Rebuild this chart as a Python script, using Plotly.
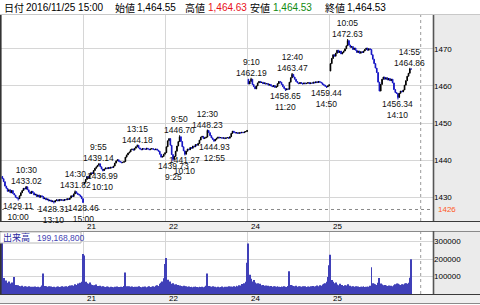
import plotly.graph_objects as go

# ---------------- data ----------------
DAYS = ["18", "21", "22", "24", "25"]
DAY_OPENS = [1435.6, 1433.6, 1442.0, 1461.8, 1464.0]

CLOSE_18 = [1435.0, 1434.2, 1433.0, 1432.4, 1431.6, 1432.0, 1431.2, 1431.8, 1431.0, 1430.6,
            1430.0, 1429.8, 1429.6, 1430.4, 1431.2, 1431.8, 1432.4, 1432.2, 1432.8, 1432.0,
            1431.4, 1431.0, 1431.6, 1431.2, 1430.6, 1430.8, 1430.2, 1430.6, 1430.0, 1430.4,
            1430.2,
            1429.6, 1429.8, 1429.3, 1429.5, 1429.0, 1429.2, 1428.8, 1429.0, 1428.7, 1429.1,
            1429.3, 1429.0, 1429.4, 1429.2, 1429.3, 1429.1, 1429.4, 1429.3, 1429.6, 1429.4,
            1429.8, 1430.4, 1430.2, 1430.9, 1431.5, 1431.1, 1430.8, 1430.6, 1430.2, 1429.6,
            1428.6]
CLOSE_21 = [1434.0, 1434.8, 1435.6, 1435.2, 1436.0, 1436.6, 1436.4, 1437.2, 1437.8, 1438.2,
            1438.6, 1439.0, 1438.2, 1437.6, 1437.2, 1437.6, 1437.9, 1437.7, 1438.0, 1437.8,
            1438.1, 1438.0, 1438.4, 1439.2, 1439.8, 1440.1, 1439.7, 1439.5, 1439.3, 1439.4,
            1439.6,
            1440.8, 1441.4, 1441.9, 1442.2, 1442.8, 1443.0, 1442.7, 1443.2, 1443.6, 1444.0,
            1443.3, 1443.0, 1442.8, 1443.1, 1443.0, 1442.9, 1443.2, 1443.0, 1442.8, 1443.0,
            1443.1, 1442.9, 1442.8, 1443.0, 1442.7, 1442.4, 1441.6, 1440.8, 1441.0, 1441.6,
            1442.0]
CLOSE_22 = [1443.6, 1445.2, 1445.8, 1444.0, 1441.5, 1440.2, 1441.0, 1442.4, 1443.8, 1445.0,
            1446.3, 1445.0, 1443.6, 1442.5, 1441.6, 1442.4, 1443.0, 1442.8, 1443.4, 1443.2,
            1443.8, 1443.6, 1444.2, 1444.0, 1444.5, 1445.4, 1446.2, 1446.4, 1445.8, 1446.0,
            1446.2,
            1448.0, 1447.4, 1446.6, 1446.0, 1445.6, 1445.2, 1445.6, 1445.9, 1446.2, 1446.0,
            1446.1, 1445.9, 1446.0, 1445.8, 1446.0, 1446.1, 1445.9, 1446.3, 1447.2, 1447.8,
            1447.5, 1447.3, 1447.4, 1447.2, 1447.4, 1447.3, 1447.5, 1447.4, 1447.6, 1447.7,
            1448.0]
CLOSE_24 = [1460.5, 1461.2, 1461.8, 1460.4, 1459.8, 1459.2, 1460.0, 1460.8, 1461.2, 1460.9,
            1461.0, 1460.6, 1460.8, 1460.5, 1460.6, 1460.2, 1460.4, 1460.0, 1459.8, 1460.1,
            1459.6, 1459.8, 1460.6, 1461.2, 1461.0, 1460.4, 1459.8, 1459.3, 1458.9, 1459.2,
            1459.1,
            1461.0, 1462.2, 1463.1, 1462.4, 1461.8, 1461.2, 1460.8, 1460.6, 1460.9, 1460.7,
            1460.5, 1460.8, 1460.6, 1460.7, 1460.9, 1460.6, 1460.8, 1460.7, 1461.0, 1460.8,
            1461.1, 1460.9, 1461.2, 1461.0, 1460.8, 1460.4, 1460.2, 1459.9, 1459.7, 1460.0,
            1460.3]
CLOSE_25 = [1466.0, 1467.4, 1468.4, 1468.0, 1468.8, 1469.6, 1469.0, 1469.4, 1468.6, 1469.0,
            1469.4, 1470.0, 1470.8, 1472.2, 1471.0, 1470.4, 1470.6, 1469.8, 1470.2, 1469.6,
            1469.0, 1469.4, 1468.8, 1469.2, 1469.0, 1469.4, 1469.8, 1470.2, 1469.6, 1470.0,
            1469.8,
            1468.4, 1467.2, 1466.0, 1464.8, 1463.6, 1461.0, 1458.6, 1460.4, 1461.8, 1462.4,
            1461.8, 1462.2, 1461.6, 1462.0, 1461.4, 1461.8, 1460.8, 1459.0, 1458.2, 1458.0,
            1456.9, 1458.0, 1458.6, 1458.4, 1458.9, 1460.2, 1461.4, 1462.6, 1463.4, 1464.55,
            1464.53]

LAST_DATE = "2016/11/25 15:00"
LAST_OPEN, LAST_HIGH, LAST_LOW, LAST_CLOSE = 1464.55, 1464.63, 1464.53, 1464.53

VOL_18 = [300000, 92000, 70000, 78000, 64000, 72000, 60000, 66000, 56000, 98000,
          52000, 48000, 50000, 46000, 44000, 47000, 42000, 45000, 43000, 41000,
          44000, 40000, 42000, 41000, 39000, 43000, 40000, 41000, 39000, 42000, 48000,
          118000, 46000, 44000, 42000, 45000, 41000, 43000, 40000, 42000, 39000,
          41000, 43000, 40000, 42000, 44000, 41000, 43000, 45000, 42000, 46000,
          48000, 44000, 50000, 47000, 56000, 52000, 60000, 55000, 64000, 70000, 229000]
VOL_21 = [221000, 70000, 62000, 58000, 66000, 55000, 52000, 50000, 48000, 54000,
          46000, 44000, 47000, 43000, 45000, 42000, 40000, 43000, 41000, 39000,
          42000, 40000, 38000, 41000, 39000, 43000, 40000, 38000, 41000, 40000, 46000,
          123000, 44000, 42000, 45000, 41000, 43000, 40000, 42000, 39000, 41000,
          44000, 40000, 38000, 42000, 40000, 43000, 39000, 41000, 44000, 40000,
          42000, 45000, 41000, 47000, 50000, 46000, 58000, 64000, 72000, 90000, 172000]
VOL_22 = [206000, 82000, 66000, 72000, 58000, 62000, 54000, 56000, 50000, 52000,
          48000, 46000, 44000, 47000, 43000, 45000, 41000, 43000, 40000, 42000,
          39000, 41000, 43000, 40000, 38000, 42000, 40000, 41000, 39000, 42000, 47000,
          118000, 46000, 43000, 41000, 44000, 40000, 42000, 39000, 41000, 38000,
          40000, 43000, 39000, 41000, 40000, 42000, 44000, 40000, 43000, 41000,
          45000, 42000, 47000, 44000, 50000, 48000, 57000, 52000, 62000, 70000, 179000]
VOL_24 = [289000, 110000, 88000, 72000, 80000, 66000, 60000, 62000, 55000, 58000,
          50000, 52000, 47000, 49000, 45000, 47000, 44000, 46000, 42000, 45000,
          43000, 41000, 44000, 42000, 40000, 43000, 41000, 44000, 42000, 40000, 46000,
          130000, 52000, 48000, 46000, 44000, 47000, 42000, 45000, 43000, 41000,
          44000, 42000, 45000, 40000, 43000, 41000, 44000, 42000, 46000, 43000,
          45000, 48000, 44000, 50000, 47000, 54000, 58000, 62000, 70000, 98000, 164000]
VOL_25 = [225000, 80000, 70000, 62000, 66000, 55000, 50000, 58000, 48000, 52000,
          46000, 50000, 48000, 56000, 45000, 47000, 43000, 45000, 42000, 44000,
          41000, 43000, 40000, 42000, 41000, 44000, 40000, 42000, 43000, 41000, 47000,
          153000, 62000, 58000, 56000, 52000, 64000, 92000, 60000, 55000, 50000,
          52000, 48000, 46000, 49000, 45000, 47000, 44000, 50000, 56000, 60000,
          58000, 54000, 52000, 56000, 55000, 60000, 62000, 58000, 64000, 93000, 199168.8]

# labelled highs / lows: (day, time, value, kind)
EXTREMES = [
    ("18", "10:00", 1429.11, "low"), ("18", "10:30", 1433.02, "high"),
    ("18", "13:10", 1428.31, "low"), ("18", "14:30", 1431.82, "high"),
    ("18", "15:00", 1428.46, "low"),
    ("21", "9:55", 1439.14, "high"), ("21", "10:10", 1436.99, "low"),
    ("21", "13:15", 1444.18, "high"),
    ("22", "9:25", 1439.73, "low"), ("22", "9:50", 1446.70, "high"),
    ("22", "10:10", 1441.27, "low"), ("22", "12:30", 1448.23, "high"),
    ("22", "12:55", 1444.93, "low"),
    ("24", "9:10", 1462.19, "high"), ("24", "11:20", 1458.65, "low"),
    ("24", "12:40", 1463.47, "high"), ("24", "14:50", 1459.44, "low"),
    ("25", "10:05", 1472.63, "high"), ("25", "14:10", 1456.34, "low"),
    ("25", "14:55", 1464.86, "high"),
]

PRICE_TICKS = [1430, 1440, 1450, 1460, 1470]
VOL_TICKS = [100000, 200000, 300000]
REF_LINE = 1426.7
REF_LABEL = "1426"

# ---------------- build ----------------
W, H = 480, 305
BPD = 62


def local_index(t):
    h, m = map(int, t.split(":"))
    mins = h * 60 + m
    return (mins - 540) // 5 if mins < 720 else 31 + (mins - 750) // 5


CLOSE_LISTS = [CLOSE_18, CLOSE_21, CLOSE_22, CLOSE_24, CLOSE_25]
VOL_LISTS = [VOL_18, VOL_21, VOL_22, VOL_24, VOL_25]

xs, o_, h_, l_, c_, vols = [], [], [], [], [], []
for k, (dopen, dcl, dv) in enumerate(zip(DAY_OPENS, CLOSE_LISTS, VOL_LISTS)):
    prev = dopen
    for j, c in enumerate(dcl):
        xs.append(k * BPD + j)
        o_.append(prev)
        c_.append(c)
        h_.append(max(prev, c))
        l_.append(min(prev, c))
        prev = c
    vols.extend(dv)

o_[-1], h_[-1], l_[-1], c_[-1] = LAST_OPEN, LAST_HIGH, LAST_LOW, LAST_CLOSE
for day, t, v, kind in EXTREMES:
    i = DAYS.index(day) * BPD + local_index(t)
    if kind == "high":
        h_[i] = max(h_[i], v)
    else:
        l_[i] = min(l_[i], v)


def px(x):
    return x / W


def py(y):
    return 1 - y / H


fig = go.Figure()
fig.add_trace(go.Candlestick(
    x=xs, open=o_, high=h_, low=l_, close=c_,
    increasing=dict(line=dict(color="#000000", width=1), fillcolor="#000000"),
    decreasing=dict(line=dict(color="#1414c4", width=1), fillcolor="#1414c4"),
    whiskerwidth=0, xaxis="x", yaxis="y", showlegend=False, hoverinfo="skip"))
fig.add_trace(go.Bar(
    x=xs, y=vols, marker=dict(color="#4040b8", line=dict(width=0)),
    xaxis="x2", yaxis="y2", showlegend=False, hoverinfo="skip"))

XRANGE = [-1.0, 325.5]
BOUNDS = [k * BPD - 0.5 for k in range(1, len(DAYS))]
XDOM = [px(1), px(433)]
TICKFONT = dict(family="Liberation Sans, Arial, sans-serif", size=8, color="#000000")

common_x = dict(range=XRANGE, domain=XDOM, showgrid=True, gridcolor="#d6d6d6",
                gridwidth=1, tickvals=BOUNDS, showticklabels=False, ticks="",
                zeroline=False, showline=False, fixedrange=True)
fig.update_layout(
    width=W, height=H, margin=dict(l=0, r=0, t=0, b=0),
    paper_bgcolor="#ffffff", plot_bgcolor="#ffffff", bargap=0.3,
    xaxis=dict(**common_x, rangeslider=dict(visible=False), anchor="y"),
    xaxis2=dict(**common_x, anchor="y2"),
    yaxis=dict(domain=[py(221), py(15)], range=[1423.6, 1479.1], side="right",
               tickvals=PRICE_TICKS, ticktext=[str(t) for t in PRICE_TICKS],
               showgrid=True, gridcolor="#d6d6d6", zeroline=False, ticks="",
               tickfont=TICKFONT, anchor="x", fixedrange=True),
    yaxis2=dict(domain=[py(294), py(232)], range=[0, 355000], side="right",
                tickvals=VOL_TICKS, ticktext=[str(t) for t in VOL_TICKS],
                showgrid=True, gridcolor="#d6d6d6", zeroline=False, ticks="",
                tickfont=TICKFONT, anchor="x2", fixedrange=True),
)

shapes = []
# right gray panels
shapes.append(dict(type="rect", xref="paper", yref="paper", x0=px(433), x1=1,
                   y0=py(221), y1=py(15), fillcolor="#ebebeb", line_width=0, layer="below"))
shapes.append(dict(type="rect", xref="paper", yref="paper", x0=px(433), x1=1,
                   y0=py(294), y1=py(232), fillcolor="#ebebeb", line_width=0, layer="below"))
# date strips
for y0, y1 in [(221, 231), (294, 303)]:
    shapes.append(dict(type="rect", xref="paper", yref="paper", x0=0, x1=1,
                       y0=py(y1), y1=py(y0), fillcolor="#efefef", line_width=0))
    shapes.append(dict(type="line", xref="paper", yref="paper", x0=0, x1=1,
                       y0=py(y0 + 0.5), y1=py(y0 + 0.5), line=dict(color="#3a3a3a", width=1)))
    shapes.append(dict(type="line", xref="paper", yref="paper", x0=0, x1=1,
                       y0=py(y1 + 0.5), y1=py(y1 + 0.5), line=dict(color="#8a8a8a", width=1)))
# top separator
shapes.append(dict(type="line", xref="paper", yref="paper", x0=0, x1=1,
                   y0=py(14.5), y1=py(14.5), line=dict(color="#c8c8c8", width=1)))
# panel borders (left & right)
for y0, y1 in [(15, 221), (231, 294)]:
    shapes.append(dict(type="line", xref="paper", yref="paper", x0=px(0.8), x1=px(0.8),
                       y0=py(y1), y1=py(y0), line=dict(color="#333333", width=1.6)))
    shapes.append(dict(type="line", xref="paper", yref="paper", x0=px(433.5), x1=px(433.5),
                       y0=py(y1), y1=py(y0), line=dict(color="#555555", width=1.6)))
# dotted vertical marker
for y0, y1 in [(15, 221), (232, 294)]:
    shapes.append(dict(type="line", xref="x", yref="paper", x0=316.2, x1=316.2,
                       y0=py(y1), y1=py(y0), line=dict(color="#9a9a9a", width=1, dash="dot")))
# dotted horizontal reference line
shapes.append(dict(type="line", xref="paper", yref="y", x0=px(1), x1=px(433),
                   y0=REF_LINE, y1=REF_LINE, line=dict(color="#8a8a8a", width=1, dash="dot")))
# volume label box
shapes.append(dict(type="rect", xref="paper", yref="paper", x0=px(0), x1=px(81),
                   y0=py(243), y1=py(232), fillcolor="#ffffff",
                   line=dict(color="#b8b8b8", width=1)))
fig.update_layout(shapes=shapes)

ann = []
LABFONT = dict(family="Liberation Sans, Arial, sans-serif", size=8.5, color="#111111")
for day, t, v, kind in EXTREMES:
    i = DAYS.index(day) * BPD + local_index(t)
    if kind == "high":
        ann.append(dict(x=i, y=v, xref="x", yref="y", text=f"{t}<br>{v:.2f}",
                        showarrow=False, yanchor="bottom", xanchor="center",
                        font=LABFONT, borderpad=0, yshift=-1))
    else:
        ann.append(dict(x=i, y=v, xref="x", yref="y", text=f"{v:.2f}<br>{t}",
                        showarrow=False, yanchor="top", xanchor="center",
                        font=LABFONT, borderpad=0, yshift=1))

# reference label
ann.append(dict(x=px(436), y=REF_LINE, xref="paper", yref="y", text=REF_LABEL,
                showarrow=False, xanchor="left", yanchor="middle",
                font=dict(family="Liberation Sans, Arial, sans-serif", size=8, color="#ff5a1e")))

# date labels in strips
for k in range(1, len(DAYS)):
    for yc in (226, 298.5):
        ann.append(dict(x=k * BPD - 0.5, y=py(yc), xref="x", yref="paper", text=DAYS[k],
                        showarrow=False, xanchor="left", yanchor="middle", xshift=1,
                        font=dict(family="Liberation Sans, Arial, sans-serif", size=8,
                                  color="#000000")))

# header
CJK = "Noto Sans CJK JP, sans-serif"
LAT = "Liberation Sans, Arial, sans-serif"
header = [
    (2, "日付", "#000000", CJK, 10),
    (24, LAST_DATE, "#000000", LAT, 10),
    (113, "始値", "#000000", CJK, 10),
    (135, f"{LAST_OPEN:,.2f}", "#000000", LAT, 10),
    (183, "高値", "#000000", CJK, 10),
    (206, f"{LAST_HIGH:,.2f}", "#e8101a", LAT, 10),
    (248, "安値", "#000000", CJK, 10),
    (271, f"{LAST_LOW:,.2f}", "#108a10", LAT, 10),
    (323, "終値", "#000000", CJK, 10),
    (345, f"{LAST_CLOSE:,.2f}", "#000000", LAT, 10),
]
for x, txt, col, fam, sz in header:
    ann.append(dict(x=px(x), y=py(7), xref="paper", yref="paper", text=txt,
                    showarrow=False, xanchor="left", yanchor="middle",
                    font=dict(family=fam, size=sz, color=col)))

# volume label
ann.append(dict(x=px(1), y=py(237.5), xref="paper", yref="paper", text="出来高",
                showarrow=False, xanchor="left", yanchor="middle",
                font=dict(family=CJK, size=9, color="#2a2aa0")))
ann.append(dict(x=px(35), y=py(237.5), xref="paper", yref="paper",
                text=f"{vols[-1] * 1000:,.0f}", showarrow=False, xanchor="left",
                yanchor="middle", font=dict(family=LAT, size=8.5, color="#4646b4")))

fig.update_layout(annotations=ann)
fig.write_html("out.html")
